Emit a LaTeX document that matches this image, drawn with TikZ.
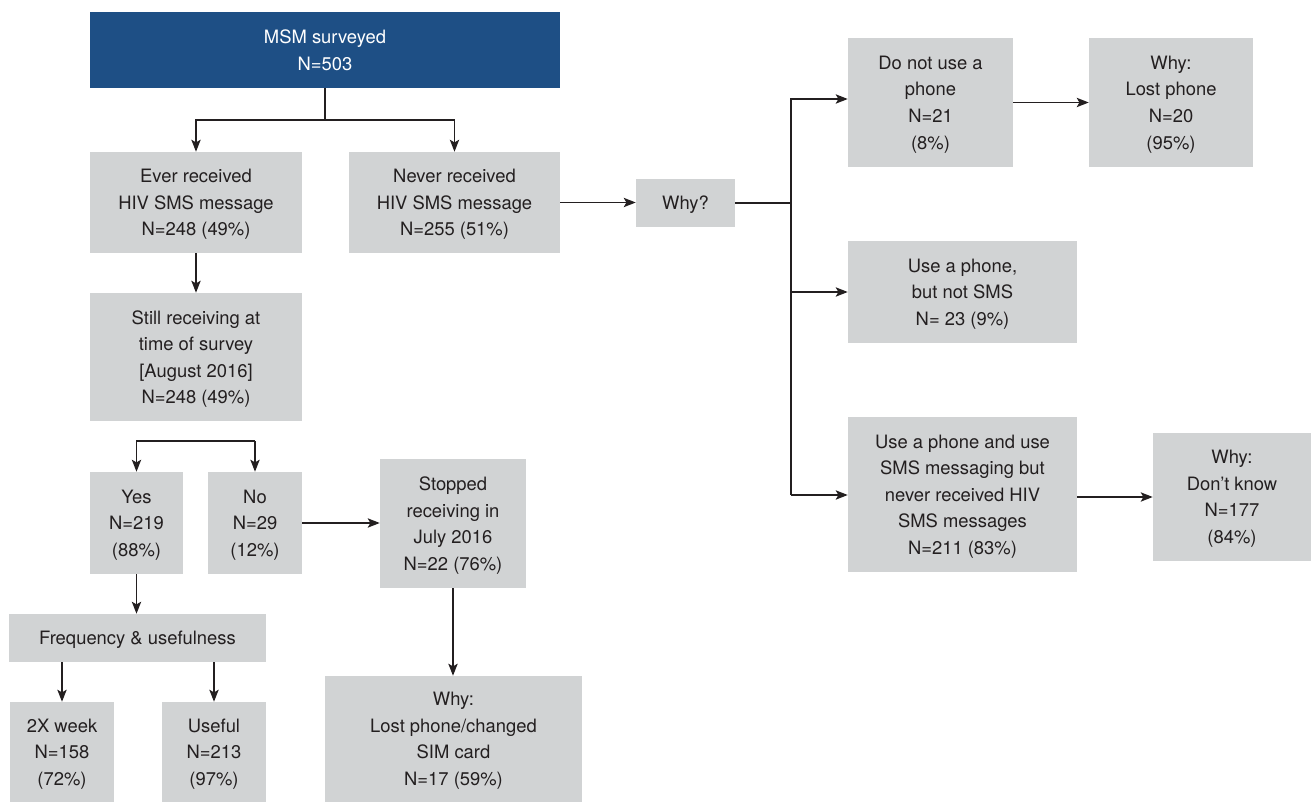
\documentclass[tikz,border=0pt]{standalone}
\usepackage{fontspec}
\setmainfont{TeX Gyre Heros}
\usetikzlibrary{arrows.meta}
\definecolor{boxgray}{HTML}{D1D3D4}
\definecolor{topblue}{HTML}{1E4F85}
\definecolor{ink}{HTML}{231F20}
\tikzset{
  box/.style={fill=boxgray, text=ink, align=center, inner sep=0pt, text depth=0pt, font=\fontsize{13.8pt}{19.9pt}\selectfont},
  sz/.style 2 args={minimum width=#1*0.75pt, minimum height=#2*0.75pt},
  topbox/.style={box, fill=topblue, text=white},
  link/.style={draw=ink, line width=1.1pt},
  arr/.style={link, -{Stealth[length=9pt,width=7pt,inset=2pt]}}
}
\begin{document}
\begin{tikzpicture}[x=0.75pt,y=-0.75pt]
\useasboundingbox (0,0) rectangle (1311,802);
% nodes
\node[topbox, sz={470}{76}] (top) at (325,50) {MSM surveyed\\N=503};
\node[box, sz={212}{101}] (ever) at (196,202.5) {Ever received\\HIV SMS message\\N=248 (49\%)};
\node[box, sz={211}{101}] (never) at (454.5,202.5) {Never received\\HIV SMS message\\N=255 (51\%)};
\node[box, sz={99}{48}] (why1) at (685.5,203) {Why?};
\node[box, sz={212}{128}] (still) at (196,357) {Still receiving at\\time of survey\\{}[August 2016]\\N=248 (49\%)};
\node[box, sz={93}{102}] (yes) at (136.5,523) {Yes\\N=219\\(88\%)};
\node[box, sz={94}{102}] (no) at (255,523) {No\\N=29\\(12\%)};
\node[box, sz={146}{129}] (stop) at (453,523.5) {Stopped\\receiving in\\July 2016\\N=22 (76\%)};
\node[box, sz={257}{48}] (freq) at (137.5,638) {Frequency \& usefulness};
\node[box, sz={104}{100}] (twox) at (62,752) {2X week\\N=158\\(72\%)};
\node[box, sz={104}{100}] (useful) at (214,752) {Useful\\N=213\\(97\%)};
\node[box, sz={257}{126}] (whysim) at (453.5,739) {Why:\\Lost phone/changed\\SIM card\\N=17 (59\%)};
\node[box, sz={165}{129}] (donot) at (930.5,102.5) {Do not use a\\phone\\N=21\\(8\%)};
\node[box, sz={164}{129}] (whylost) at (1171,102.5) {Why:\\Lost phone\\N=20\\(95\%)};
\node[box, sz={229}{102}] (usenot) at (962.5,292) {Use a phone,\\but not SMS\\N= 23 (9\%)};
\node[box, sz={229}{155}] (usesms) at (962.5,494.5) {Use a phone and use\\SMS messaging but\\never received HIV\\SMS messages\\N=211 (83\%)};
\node[box, sz={158}{128}] (dontknow) at (1232,497) {Why:\\Don’t know\\N=177\\(84\%)};
% junctions
\coordinate (j1) at (325,120);
\coordinate (bl) at (136.5,441);
\coordinate (br) at (255,441);
\coordinate (vt) at (791,99);
\coordinate (vb) at (791,495);
% connectors
\draw[link] (top.south) -- (j1);
\draw[arr] (j1) -| (ever.north);
\draw[arr] (j1) -| (never.north);
\draw[arr] (ever.south) -- (still.north);
\draw[arr] (br) -- (bl) -- (yes.north);
\draw[arr] (br) -- (no.north);
\draw[arr] (yes.south) -- (yes.south |- freq.north);
\draw[arr] (twox.north |- freq.south) -- (twox.north);
\draw[arr] (useful.north |- freq.south) -- (useful.north);
\draw[arr] (no.east) -- (no.east -| stop.west);
\draw[arr] (stop.south) -- (stop.south |- whysim.north);
\draw[arr] (never.east) -- (never.east -| why1.west);
\draw[link] (why1.east) -- (why1.east -| vt);
\draw[arr] (vb) -- (vt) -- (vt -| donot.west);
\draw[arr] (vt |- usenot) -- (usenot.west);
\draw[arr] (vb) -- (vb -| usesms.west);
\draw[arr] (donot.east) -- (donot.east -| whylost.west);
\draw[arr] (usesms.east |- dontknow) -- (dontknow.west);
\end{tikzpicture}
\end{document}
